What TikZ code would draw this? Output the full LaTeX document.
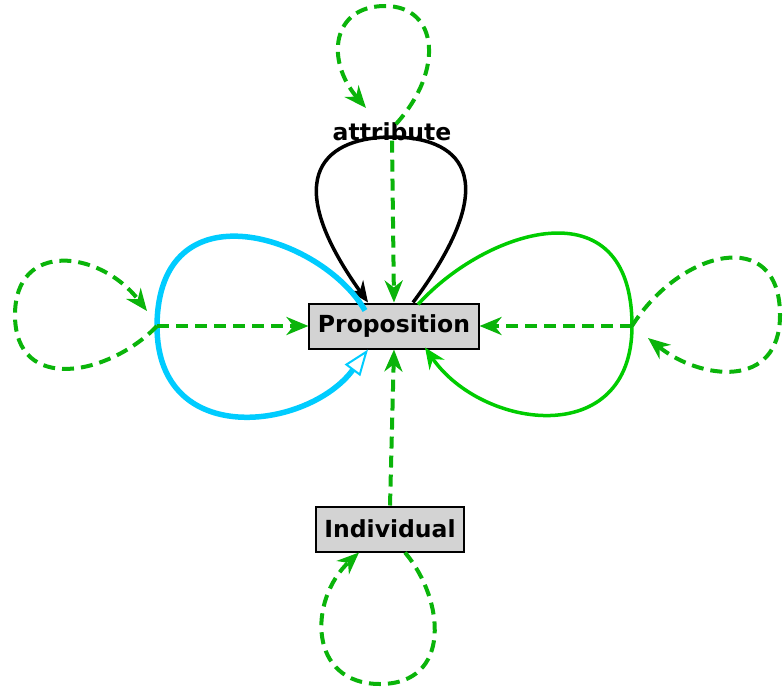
\documentclass[tikz,border=0pt]{standalone}
\usepackage{fontspec}
\setmainfont{DejaVu Sans}
\usetikzlibrary{arrows.meta}
\definecolor{dgreen}{RGB}{10,180,10}
\definecolor{sgreen}{RGB}{0,204,0}
\definecolor{lblue}{RGB}{0,204,255}
\definecolor{boxgray}{RGB}{211,211,211}
\begin{document}
\begin{tikzpicture}[x=1pt,y=-1pt,
  every node/.style={font=\fontsize{23.5}{28}\selectfont\bfseries},
  classbox/.style={draw=black,fill=boxgray,line width=2pt,inner xsep=8.5pt,inner ysep=0pt,minimum height=45pt},
  dashedge/.style={draw=dgreen,line width=4pt,dash pattern=on 12pt off 7pt,-{Stealth[length=22pt,width=18pt,inset=7pt]}},
  blackedge/.style={draw=black,line width=3.5pt,-{Stealth[length=21pt,width=18pt,inset=7pt]}},
  greenedge/.style={draw=sgreen,line width=3.5pt,-{Stealth[length=21pt,width=18pt,inset=7pt]}},
  blueedge/.style={draw=lblue,line width=5.5pt,-{Triangle[open,length=26pt,width=19pt,fill=white,line width=2pt]}}]
\useasboundingbox (0,0) rectangle (784,688);
\node[classbox] (P) at (394,326) {Proposition};
\node[classbox] (I) at (390,529) {Individual};
\node[anchor=base,inner sep=0pt] (A) at (392,140) {attribute};
\coordinate (cL) at (157,326);
\coordinate (cR) at (632,326);
\coordinate (aT) at (396,124);
% black loop with label attribute
\draw[blackedge] ([xshift=19pt]P.north) .. controls (510,172) and (455,137) .. (392,137)
   .. controls (329,137) and (275,172) .. ([xshift=-26pt]P.north);
% blue loop
\draw[blueedge] ([xshift=-29pt,yshift=-8pt]P.north) .. controls (321,235) and (158,184) .. (cL)
   .. controls (157,450) and (308,430) .. ([xshift=-26pt]P.south);
% green loop
\draw[greenedge] ([xshift=24pt,yshift=-2pt]P.north) .. controls (485,230) and (632,182) .. (cR)
   .. controls (632,450) and (482,430) .. ([xshift=31pt,yshift=2pt]P.south);
% dashed edges
\draw[dashedge] (A.south) -- (P.north);
\draw[dashedge] (aT) .. controls (445,70) and (438,6) .. (385,6)
   .. controls (332,6) and (325,60) .. (366,108);
\draw[dashedge] (cL) -- (P.west);
\draw[dashedge] (cL) .. controls (110,375) and (15,395) .. (15,315)
   .. controls (15,240) and (100,250) .. (147,311);
\draw[dashedge] (cR) -- (P.east);
\draw[dashedge] (cR) .. controls (680,250) and (780,225) .. (780,315)
   .. controls (780,390) and (700,380) .. (648,338);
\draw[dashedge] (I.north) -- (P.south);
\draw[dashedge] ([xshift=15pt]I.south) .. controls (445,600) and (452,684) .. (380,684)
   .. controls (308,684) and (308,600) .. ([xshift=-31pt]I.south);
\end{tikzpicture}
\end{document}
